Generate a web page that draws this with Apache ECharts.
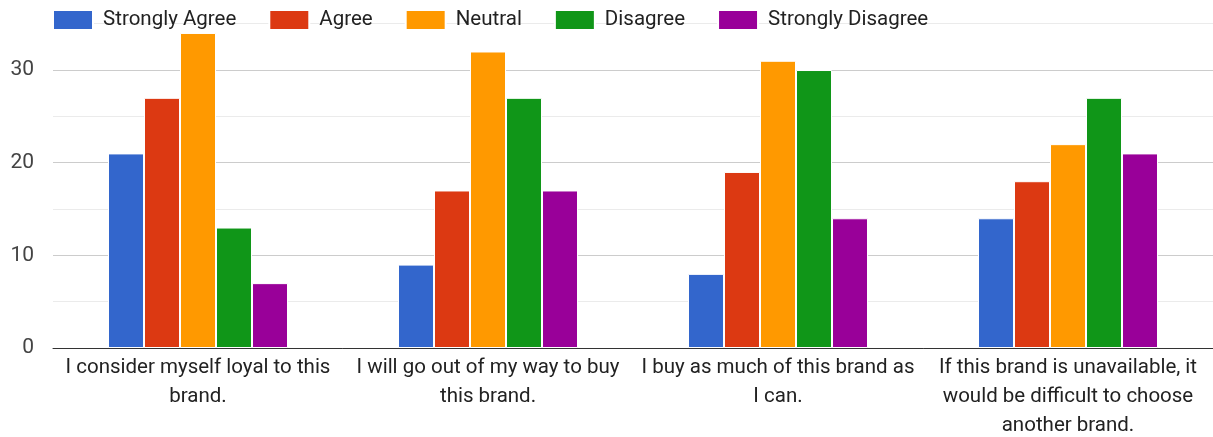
<!DOCTYPE html>
<html>
<head>
<meta charset="utf-8">
<script src="https://cdn.jsdelivr.net/npm/echarts@6/dist/echarts.min.js"></script>
<style>
  html, body { margin: 0; padding: 0; background: #fff; }
  #chart { width: 1213px; height: 437px; }
</style>
</head>
<body>
<div id="chart"></div>
<script>
// Survey statements (wrapped for the category axis)
const categories = [
  'I consider myself loyal to this\nbrand.',
  'I will go out of my way to buy\nthis brand.',
  'I buy as much of this brand as\nI can.',
  'If this brand is unavailable, it\nwould be difficult to choose\nanother brand.'
];

const seriesNames = ['Strongly Agree', 'Agree', 'Neutral', 'Disagree', 'Strongly Disagree'];
const seriesColors = ['#3366cc', '#dc3912', '#ff9900', '#109618', '#990099'];

// Response counts per statement
const stronglyAgree    = [21, 9, 8, 14];
const agree            = [27, 17, 19, 18];
const neutral          = [34, 32, 31, 22];
const disagree         = [13, 27, 30, 27];
const stronglyDisagree = [7, 17, 14, 21];

const seriesValues = [stronglyAgree, agree, neutral, disagree, stronglyDisagree];

const chart = echarts.init(document.getElementById('chart'), null, { renderer: 'canvas' });

const font = 'Roboto, Arial, sans-serif';

chart.setOption({
  animation: false,
  backgroundColor: '#fff',
  textStyle: { fontFamily: font },
  legend: {
    left: 52,
    top: 9,
    padding: 0,
    itemWidth: 40,
    itemHeight: 20,
    itemGap: 32,
    icon: 'rect',
    textStyle: { fontSize: 20.5, color: '#222', fontFamily: font, padding: [0, 0, 0, 5] },
    data: seriesNames
  },
  grid: {
    left: 53, right: 0, top: 23.7, bottom: 89,
    containLabel: false,
    outerBoundsMode: 'none'
  },
  xAxis: {
    type: 'category',
    data: categories,
    axisLine: { lineStyle: { color: '#333', width: 1 } },
    axisTick: { show: false },
    axisLabel: {
      color: '#222',
      fontSize: 20.5,
      fontFamily: font,
      lineHeight: 29,
      margin: 5,
      interval: 0
    }
  },
  yAxis: {
    type: 'value',
    min: 0,
    max: 35,
    interval: 5,
    axisLine: { show: false },
    axisTick: { show: false },
    axisLabel: {
      color: '#444',
      fontSize: 21,
      fontFamily: font,
      margin: 19,
      formatter: v => (v % 10 === 0 ? String(v) : '')
    },
    splitLine: {
      lineStyle: { color: ['#cccccc', '#ebebeb'], width: 1 }
    }
  },
  series: seriesNames.map((name, i) => ({
    name,
    type: 'bar',
    data: seriesValues[i],
    barWidth: 36,
    barGap: '0%',
    itemStyle: { color: seriesColors[i], borderColor: '#fff', borderWidth: 1 }
  }))
});
</script>
</body>
</html>
